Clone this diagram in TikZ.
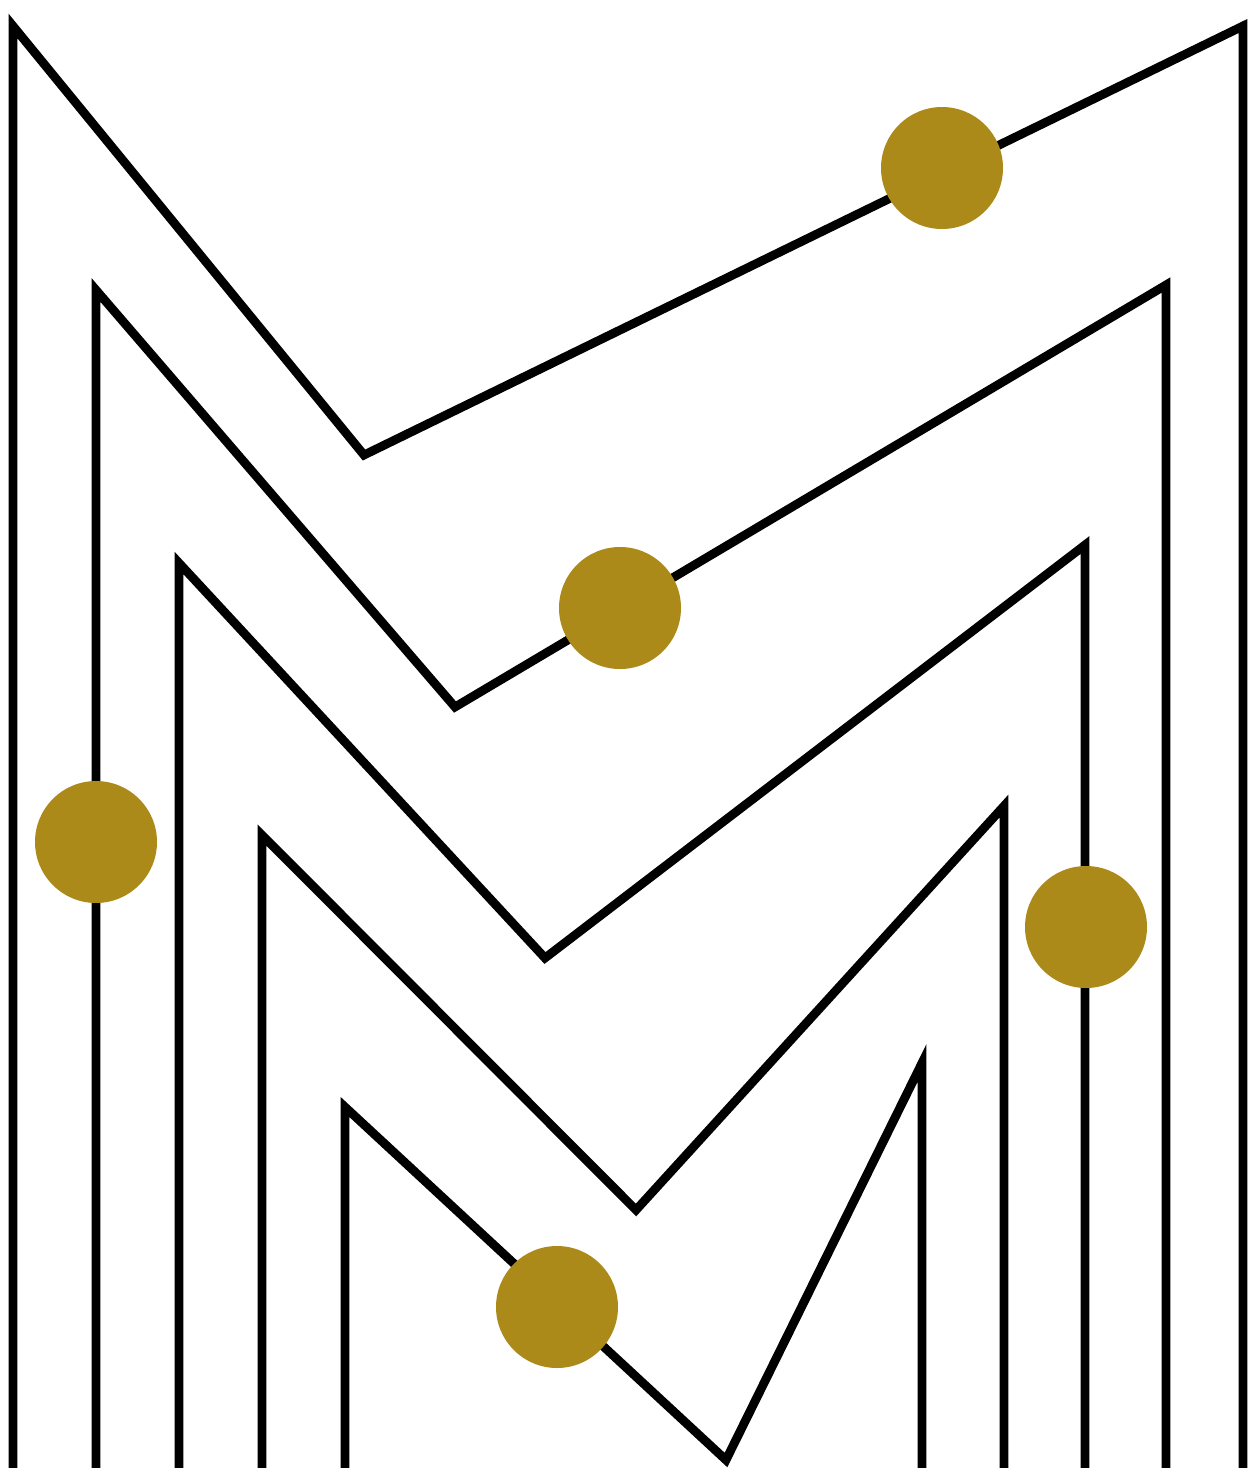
\documentclass[tikz,border=0pt]{standalone}
\definecolor{gold}{HTML}{AC8A1A}
\begin{document}
\begin{tikzpicture}[x=0.5pt,y=-0.5pt,
  zig/.style={draw=black,line width=4.4pt,miter limit=20},
  dot/.style={fill=gold}]
\useasboundingbox (0,0) rectangle (1249,1468);
\draw[zig] (13,1475) -- (13,26) -- (364,455) -- (1243,26) -- (1243,1475);
\draw[zig] (96,1475) -- (96,290) -- (455,707) -- (1166,285) -- (1166,1475);
\draw[zig] (179,1475) -- (179,563) -- (545,958) -- (1085,545) -- (1085,1475);
\draw[zig] (262,1475) -- (262,835) -- (636,1210) -- (1004,806) -- (1004,1475);
\draw[zig] (345,1475) -- (345,1107) -- (726,1460) -- (922,1063) -- (922,1475);
\fill[dot] (942,168) circle (61);
\fill[dot] (620,608) circle (61);
\fill[dot] (96,842) circle (61);
\fill[dot] (1086,927) circle (61);
\fill[dot] (557,1307) circle (61);
\end{tikzpicture}
\end{document}
